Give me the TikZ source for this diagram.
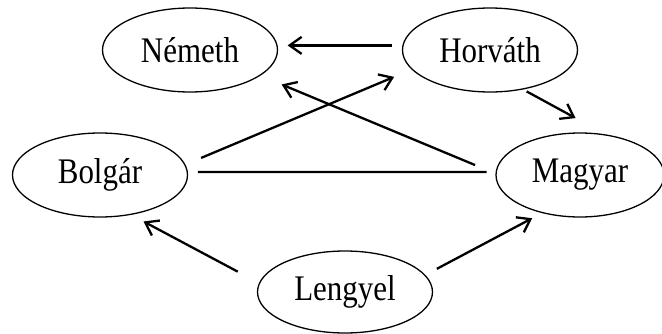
\documentclass[tikz,border=0pt]{standalone}
\usepackage{fontspec}
\setmainfont{Liberation Serif}[FakeStretch=0.86]
\usetikzlibrary{shapes.geometric,arrows.meta}

\begin{document}
\begin{tikzpicture}[x=1pt,y=1pt,
  person/.style={draw,ellipse,line width=1.3pt,minimum width=175pt,minimum height=84pt,inner sep=0pt,font=\fontsize{36}{40}\selectfont},
  rel/.style={line width=2.3pt,-{Straight Barb[length=12pt,width=17pt]}},
  tie/.style={line width=2.3pt}]
\useasboundingbox (0,0) rectangle (662,333);
\node[person] (nemeth) at (190,283) {Németh};
\node[person] (horvath) at (490,283) {Horváth};
\node[person] (bolgar) at (100,158) {Bolgár};
\node[person,minimum width=168pt] (magyar) at (580,158) {Magyar};
\node[person,minimum height=82pt] (lengyel) at (345,41) {Lengyel};
\draw[rel,shorten <=10pt,shorten >=10pt] (horvath.177) -- (nemeth.3);
\draw[rel,shorten <=17pt,shorten >=19pt] (bolgar.7) -- (horvath.194);
\draw[rel,shorten <=22pt,shorten >=23pt] (magyar.179) -- (nemeth.340);
\draw[rel,shorten <=4pt,shorten >=34pt] (horvath.310) -- (magyar.58);
\draw[tie,shorten <=10pt,shorten >=9pt] (bolgar.2) -- (magyar.178);
\draw[rel,shorten <=24pt,shorten >=14pt] (lengyel.174) -- (bolgar.308);
\draw[rel,shorten <=13pt,shorten >=11pt] (lengyel.12) -- (magyar.225);
\end{tikzpicture}
\end{document}
